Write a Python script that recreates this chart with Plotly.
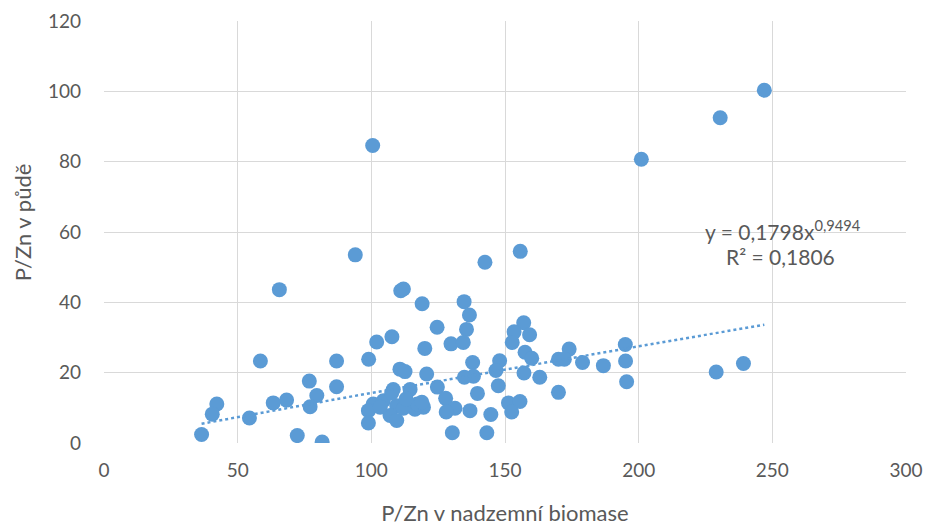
import plotly.graph_objects as go
import numpy as np

x_biomass = [247, 230.5, 201, 100.5, 94, 155.7, 142.5, 65.6, 111, 112, 119, 134.7, 136.7, 124.6,
             135.6, 157, 153.4, 159.2, 102, 107.7, 129.8, 134.4, 152.7, 120, 174, 195, 58.5, 87,
             99, 137.9, 148, 157.5, 160, 170, 172.2, 179, 186.8, 195.1, 195.5, 229, 239.2, 170,
             163, 157.1, 146.6, 138.2, 134.8, 147.5, 139.7, 120.7, 124.7, 110.7, 112.6, 127.8,
             131.3, 128, 136.9, 144.7, 151.3, 155.6, 152.5, 130.3, 143.2, 114.5, 108.2, 119.5,
             116.3, 100.7, 98.9, 104.5, 109.5, 107, 109.5, 98.9, 103.3, 112, 117.2, 118.9, 107.6,
             76.8, 79.6, 77.1, 87, 68.3, 63.3, 42.2, 40.5, 54.4, 36.5, 72.3, 81.6, 113]
y_soil = [100.3, 92.5, 80.7, 84.6, 53.5, 54.5, 51.4, 43.6, 43.3, 43.8, 39.6, 40.2, 36.4, 32.9,
          32.3, 34.2, 31.6, 30.8, 28.7, 30.2, 28.2, 28.6, 28.6, 26.9, 26.7, 28.0, 23.3, 23.3,
          23.8, 22.9, 23.4, 25.8, 24.1, 23.8, 23.8, 22.9, 22.0, 23.3, 17.4, 20.2, 22.6, 14.4,
          18.7, 19.9, 20.6, 19.0, 18.7, 16.3, 14.1, 19.6, 15.9, 21.0, 20.3, 12.7,
          9.9, 8.8, 9.2, 8.1, 11.4, 11.8, 8.8, 2.9, 2.9, 15.2, 15.2, 10.2,
          9.6, 11.1, 9.2, 12.0, 10.6, 7.8, 6.4, 5.7, 10.2, 9.9, 11.1, 11.6, 14.2,
          17.6, 13.5, 10.3, 16.0, 12.2, 11.4, 11.1, 8.2, 7.1, 2.4, 2.1, 0.3, 12.5]

trend_a = 0.1798
trend_b = 0.9494
trend_label = "y = 0,1798x<sup>0,9494</sup>"
r2_label = "R² = 0,1806"
x_title = "P/Zn v nadzemní biomase"
y_title = "P/Zn v půdě"

blue = "#5b9bd5"
grey = "#595959"
grid = "#d9d9d9"
font = "Lato, 'Open Sans', sans-serif"

tx = np.linspace(min(x_biomass), max(x_biomass), 200)
ty = trend_a * tx ** trend_b

fig = go.Figure()
fig.add_trace(go.Scatter(x=x_biomass, y=y_soil, mode="markers",
                         marker=dict(color=blue, size=15, line=dict(width=0)),
                         showlegend=False))
fig.add_trace(go.Scatter(x=tx, y=ty, mode="lines",
                         line=dict(color=blue, width=2.5, dash="dot"),
                         showlegend=False))

fig.add_annotation(x=254.0, y=60.6, text=trend_label, showarrow=False,
                   font=dict(family=font, size=21, color=grey), xanchor="center", yanchor="middle")
fig.add_annotation(x=253.0, y=53.0, text=r2_label, showarrow=False,
                   font=dict(family=font, size=21, color=grey), xanchor="center", yanchor="middle")
fig.add_annotation(xref="paper", yref="paper", x=0, y=0.521, xshift=-82, text=y_title,
                   textangle=-90, showarrow=False, xanchor="center", yanchor="middle",
                   font=dict(family=font, size=22, color=grey))

fig.update_layout(
    width=925, height=526,
    margin=dict(l=104, r=19, t=21, b=83, autoexpand=False),
    paper_bgcolor="white", plot_bgcolor="white",
    font=dict(family=font, size=19, color=grey),
    xaxis=dict(range=[0, 300], dtick=50, showgrid=True, gridcolor=grid, gridwidth=1,
               zeroline=False, showline=False, ticks="", ticklabelstandoff=14, automargin=False,
               tickfont=dict(size=19, color=grey),
               title=dict(text=x_title, font=dict(size=22, color=grey), standoff=30)),
    yaxis=dict(range=[0, 120], dtick=20, showgrid=True, gridcolor=grid, gridwidth=1,
               zeroline=False, showline=False, ticks="", ticklabelstandoff=22, automargin=False,
               tickfont=dict(size=19, color=grey)),
)

fig.write_html("out.html")
